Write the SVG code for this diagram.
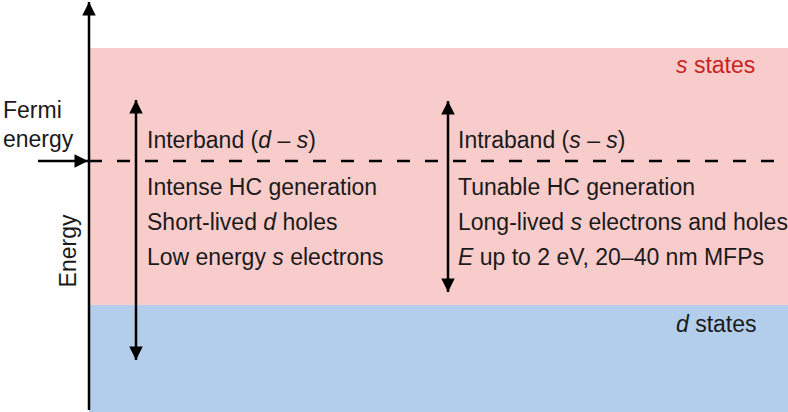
<svg xmlns="http://www.w3.org/2000/svg" width="788" height="412" viewBox="0 0 788 412">
<style>
text{font-family:"Liberation Sans",Arial,sans-serif;font-size:23px;fill:#1a1a1a}
.i{font-style:italic}
.red{fill:#c8231f}
.ln{stroke:#000;stroke-width:2.5;fill:none}
</style>
<defs>
<marker id="ah" viewBox="0 0 10 10" refX="10" refY="5" markerWidth="5.6" markerHeight="5.4" orient="auto-start-reverse" markerUnits="strokeWidth">
<path d="M0,0 L10,5 L0,10 z" fill="#000"/>
</marker>
</defs>
<g id="bands">
<rect x="89" y="48" width="699" height="257" fill="#f9cccc"/>
<rect x="89" y="305" width="699" height="107" fill="#b2ceea"/>
</g>
<g id="labels-states">
<text x="676" y="73" class="red"><tspan class="i">s</tspan> states</text>
<text x="676" y="332"><tspan class="i">d</tspan> states</text>
</g>
<g id="axis">
<text transform="translate(76,251) rotate(-90)" text-anchor="middle">Energy</text>
<text x="3" y="118">Fermi</text>
<text x="3" y="147">energy</text>
</g>
<g id="connectors">
<line class="ln" x1="89" y1="410" x2="89" y2="2" marker-end="url(#ah)"/>
<line class="ln" x1="38" y1="161" x2="88" y2="161" marker-end="url(#ah)"/>
<line x1="89" y1="161" x2="788" y2="161" stroke="#000" stroke-width="2.5" stroke-dasharray="13 15"/>
<line class="ln" x1="136" y1="100" x2="136" y2="360" marker-start="url(#ah)" marker-end="url(#ah)"/>
<line class="ln" x1="448" y1="101" x2="448" y2="292" marker-start="url(#ah)" marker-end="url(#ah)"/>
</g>
<g id="interband">
<text x="147" y="148">Interband (<tspan class="i">d</tspan> – <tspan class="i">s</tspan>)</text>
<text x="147" y="195">Intense HC generation</text>
<text x="147" y="230">Short-lived <tspan class="i">d</tspan> holes</text>
<text x="147" y="265">Low energy <tspan class="i">s</tspan> electrons</text>
</g>
<g id="intraband">
<text x="458" y="148">Intraband (<tspan class="i">s</tspan> – <tspan class="i">s</tspan>)</text>
<text x="458" y="195">Tunable HC generation</text>
<text x="458" y="230">Long-lived <tspan class="i">s</tspan> electrons and holes</text>
<text x="458" y="265"><tspan class="i">E</tspan> up to 2 eV, 20–40 nm MFPs</text>
</g>
</svg>
